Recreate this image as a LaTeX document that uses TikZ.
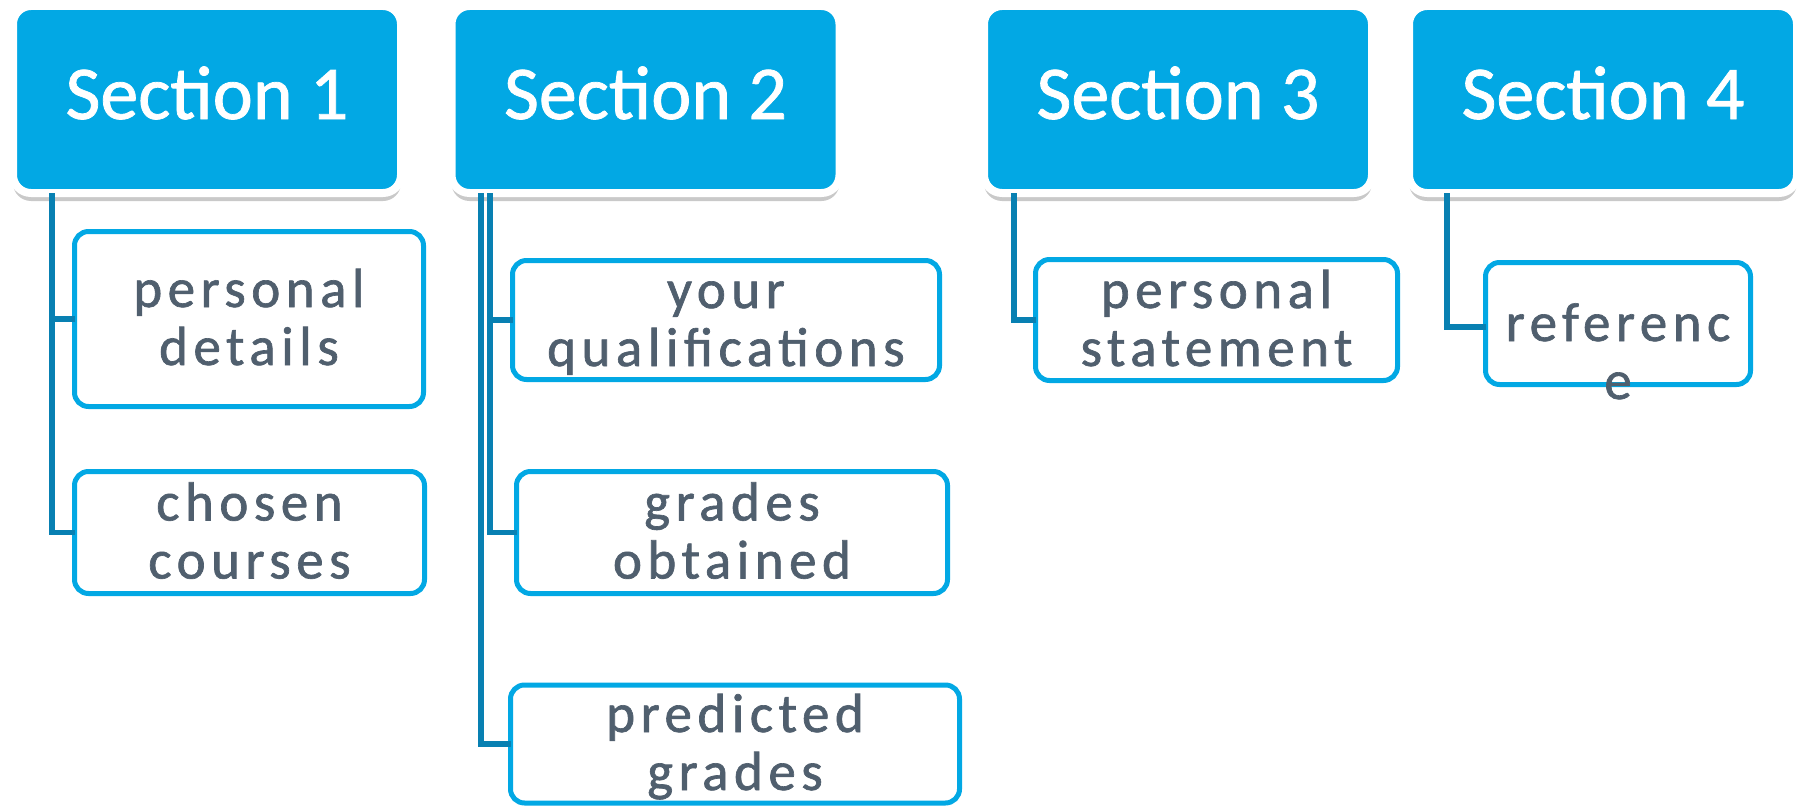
\documentclass[tikz,border=0pt]{standalone}
\usepackage{fontspec}
\setmainfont{Carlito}
\newfontfamily\secfont[FakeBold=1]{Carlito}
\newfontfamily\childfont[LetterSpace=10,FakeBold=1.2]{Carlito}
\newcommand\tstrut{\rule{0pt}{45pt}}
\newcommand\bstrut{\rule[-11pt]{0pt}{11pt}}
\usetikzlibrary{shadows}
\definecolor{secblue}{RGB}{2,168,228}
\definecolor{linkblue}{RGB}{8,128,178}
\definecolor{txtgray}{RGB}{80,95,110}
\tikzset{
  secbox/.style={draw=white, line width=8pt, fill=secblue, rounded corners=18pt,
    minimum width=388pt, minimum height=187pt, inner sep=0pt, outer sep=0pt,
    text=white, font=\secfont\fontsize{76}{80}\selectfont,
    text height=39pt, text depth=0pt,
    drop shadow={shadow xshift=0pt, shadow yshift=-8pt, opacity=0.3, fill=black!70}},
  childbox/.style={draw=secblue, line width=5pt, fill=white, rounded corners=14pt,
    inner sep=0pt, outer sep=0pt, align=center, text=txtgray,
    font=\childfont\fontsize{55}{58}\selectfont},
  childtext/.style={inner sep=0pt, align=center, text=txtgray,
    font=\childfont\fontsize{55}{58}\selectfont},
  conn/.style={draw=linkblue, line width=5.5pt}
}
\begin{document}
\begin{tikzpicture}[x=1pt, y=-1pt]
\useasboundingbox (0,0) rectangle (1806,808);
% child boxes
\node[childbox, minimum width=349pt, minimum height=175pt] (pd) at (249,319) {\tstrut personal\\details\bstrut};
\node[childbox, minimum width=350pt, minimum height=122pt] (cc) at (249.5,532.5) {\tstrut chosen\\courses\bstrut};
\node[childbox, minimum width=427pt, minimum height=119pt] (yq) at (726,320) {\tstrut your\\qualifications\bstrut};
\node[childbox, minimum width=431pt, minimum height=122pt] (go) at (732,532.5) {\tstrut grades\\obtained\bstrut};
\node[childbox, minimum width=449pt, minimum height=118pt] (pg) at (735,744) {\tstrut predicted\\grades\bstrut};
\node[childbox, minimum width=362pt, minimum height=121pt] (ps) at (1216.5,320) {\tstrut personal\\statement\bstrut};
\node[childbox, minimum width=265pt, minimum height=122pt] (rf) at (1618,323.5) {};
\node[childtext] (rft) at ([yshift=-29.5pt]rf.center) {\tstrut referenc\\e\bstrut};
% section boxes
\node[secbox] (s1) at (207,99.5) {Section 1};
\node[secbox] (s2) at (645.5,99.5) {Section 2};
\node[secbox] (s3) at (1178,99.5) {Section 3};
\node[secbox] (s4) at (1603,99.5) {Section 4};
% connectors
\draw[conn] ([xshift=-155pt]s1.south) |- (pd.west);
\draw[conn] ([xshift=-155pt]s1.south) |- (cc.west);
\draw[conn] ([xshift=-155.5pt]s2.south) |- (yq.west);
\draw[conn] ([xshift=-155.5pt]s2.south) |- (go.west);
\draw[conn] ([xshift=-164.5pt]s2.south) |- (pg.west);
\draw[conn] ([xshift=-164pt]s3.south) |- (ps.west);
\draw[conn] ([xshift=-156pt]s4.south) |- ([yshift=-3.5pt]rf.west);
\end{tikzpicture}
\end{document}
